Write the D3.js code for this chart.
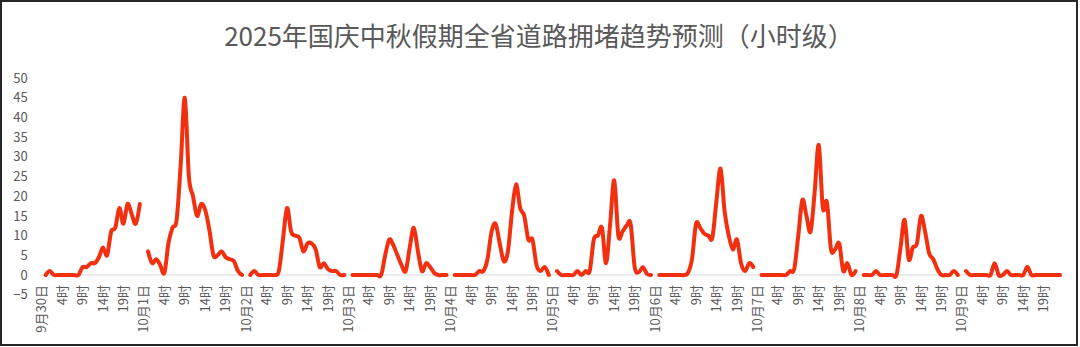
<!DOCTYPE html>
<html>
<head>
<meta charset="utf-8">
<script src="https://cdn.jsdelivr.net/npm/d3@7"></script>
<style>
  html, body { margin: 0; padding: 0; background: #fff; }
  svg { display: block; font-family: "Noto Sans CJK SC", "Noto Sans", sans-serif; }
</style>
</head>
<body>
<svg id="chart" width="1080" height="347"></svg>
<script>
// chart data
var title = "2025年国庆中秋假期全省道路拥堵趋势预测（小时级）";
var dayLabels = ["9月30日", "10月1日", "10月2日", "10月3日", "10月4日",
                 "10月5日", "10月6日", "10月7日", "10月8日", "10月9日"];
var hourSuffix = "时";
var yTicks = [-5, 0, 5, 10, 15, 20, 25, 30, 35, 40, 45, 50];

// hourly values 0时..23时 for each day
var sep30 = [0, 1, 0, 0, 0, 0, 0, 0, 0, 2, 2, 3, 3, 4.5, 7, 5, 11, 12, 17, 13, 18, 15.5, 13, 18];
var oct1  = [6, 3, 4, 2.5, 0.5, 8, 12, 14, 28, 45, 25, 20, 15, 18, 16.5, 11.5, 5, 5, 6, 4.5, 4, 3.5, 1, 0];
var oct2  = [0, 1, 0, 0, 0, 0, 0, 1, 9, 17, 11, 10, 9.5, 6, 8, 8, 6.5, 2, 3, 1.5, 1, 1, 0, 0];
var oct3  = [0, 0, 0, 0, 0, 0, 0, 0, 5, 9, 7.5, 5, 2.5, 1, 7, 12, 6, 1, 3, 2, 0.5, 0, 0, 0];
var oct4  = [0, 0, 0, 0, 0, 0, 1, 1, 4, 11, 13, 8, 3.5, 6, 16, 23, 17, 15, 9, 9, 2.5, 1, 2, 0];
var oct5  = [1, 0, 0, 0, 0, 1, 0, 1, 1, 9, 10, 12, 3, 13, 24, 10, 11, 12.5, 13, 2, 0.7, 2, 0.3, 0];
var oct6  = [0, 0, 0, 0, 0, 0, 0, 0.5, 4, 13, 12, 10.5, 10, 9.5, 19, 27, 16, 10, 6.5, 9, 3, 1, 3, 2];
var oct7  = [0, 0, 0, 0, 0, 0, 0, 1, 1.5, 10, 19, 15, 11, 21, 33, 17, 18.5, 6.5, 6.5, 8, 1, 3, 0, 1];
var oct8  = [0, 0, 0, 1, 0, 0, 0, 0, 0, 7, 14, 4, 7, 8, 15, 11, 5.5, 4, 1.5, 0, 0, 0, 1, 0];
var oct9  = [1, 0, 0, 0, 0, 0, 0, 3, 0, 0, 1, 0, 0, 0, 0, 2, 0, 0, 0, 0, 0, 0, 0, 0];
var hourly = [sep30, oct1, oct2, oct3, oct4, oct5, oct6, oct7, oct8, oct9];

// each day = one date category (no value, gives the gap) + 24 hours
var cats = [];
dayLabels.forEach(function(day, d) {
  cats.push({ label: day, value: null });
  hourly[d].forEach(function(v, h) {
    cats.push({ label: h + hourSuffix, value: v });
  });
});
cats.forEach(function(c, i) { c.i = i; });

var svg = d3.select("#chart");
var grey = "#595959";

var x = d3.scaleBand()
    .domain(cats.map(function(c) { return c.i; }))
    .range([39.6, 1062.1])
    .paddingInner(0);
var y = d3.scaleLinear().domain([-5, 50]).range([294.7, 78]);
var cx = function(i) { return x(i) + x.bandwidth() / 2; };

// frame
svg.append("rect")
    .attr("x", 1).attr("y", 1)
    .attr("width", 1076).attr("height", 344)
    .attr("fill", "none")
    .attr("stroke", "#262626")
    .attr("stroke-width", 2);

// title
svg.append("text")
    .attr("x", 539).attr("y", 46)
    .attr("text-anchor", "middle")
    .attr("fill", grey)
    .attr("font-size", 26)
    .text(title);

// zero line
svg.append("line")
    .attr("x1", 39.6).attr("x2", 1062.1)
    .attr("y1", y(0)).attr("y2", y(0))
    .attr("stroke", "#d9d9d9")
    .attr("stroke-width", 1);

// y axis
var yAxis = svg.append("g")
    .attr("transform", "translate(39.6,0)")
    .call(d3.axisLeft(y).tickValues(yTicks).tickSize(0).tickPadding(12));
yAxis.select(".domain").remove();
yAxis.selectAll("text")
    .attr("fill", grey)
    .attr("font-size", 13)
    .attr("font-family", "'Noto Sans CJK SC', sans-serif");

// x axis, a label every 5 categories
var xAxis = svg.append("g")
    .attr("transform", "translate(0,285)")
    .call(d3.axisBottom(x)
      .tickValues(cats.filter(function(c) { return c.i % 5 === 0; }).map(function(c) { return c.i; }))
      .tickFormat(function(i) { return cats[i].label; })
      .tickSize(0));
xAxis.select(".domain").remove();
xAxis.selectAll(".tick").attr("transform", function(i) { return "translate(" + cx(i) + ",0)"; });
xAxis.selectAll("text")
    .attr("x", 0).attr("y", 0).attr("dy", "0.35em")
    .attr("transform", "rotate(-90)")
    .attr("text-anchor", "end")
    .attr("fill", grey)
    .attr("font-size", 13)
    .attr("font-family", "'Noto Sans CJK SC', sans-serif");

// smoothed line, broken at each date category
var line = d3.line()
    .defined(function(c) { return c.value !== null; })
    .x(function(c) { return cx(c.i); })
    .y(function(c) { return y(c.value); })
    .curve(d3.curveCardinal.tension(0));

svg.append("path")
    .datum(cats)
    .attr("d", line)
    .attr("fill", "none")
    .attr("stroke", "#f2300f")
    .attr("stroke-width", 4)
    .attr("stroke-linejoin", "round")
    .attr("stroke-linecap", "round");
</script>
</body>
</html>
